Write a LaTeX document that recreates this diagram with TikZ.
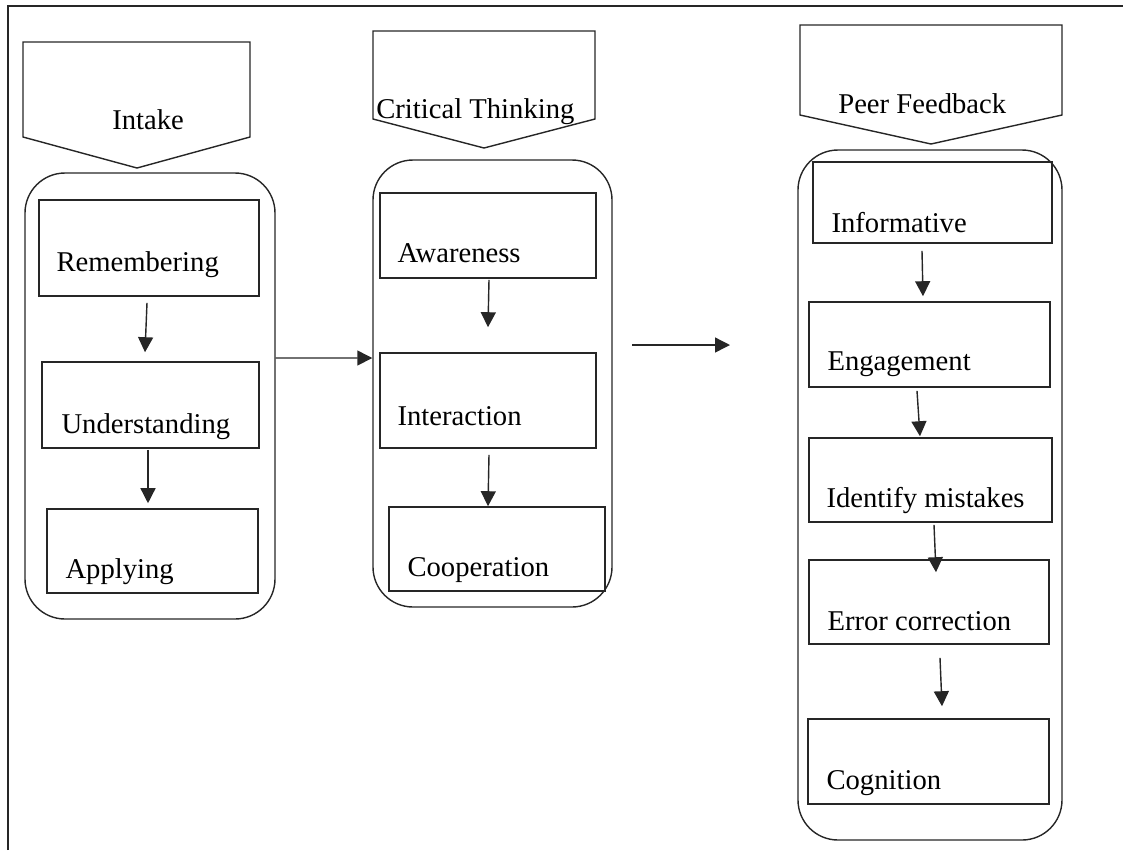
\documentclass[tikz,border=0pt]{standalone}
\usepackage{fontspec}
\setmainfont{Liberation Serif}
\usetikzlibrary{fit,arrows.meta}
\tikzset{>={Triangle[length=0.3cm,width=0.3cm]}}
\colorlet{ink}{black!85}
\tikzset{
  box/.style={draw=ink,line width=0.9pt,inner sep=0pt,fit={#1}},
  group/.style={draw=ink,line width=0.8pt,inner sep=0pt,rounded corners=0.8cm,fit={#1}},
  head/.style={draw=ink,line width=0.8pt},
  txt/.style={anchor=base west,inner sep=0pt,font=\fontsize{16.3}{19}\selectfont},
  link/.style={->,draw=ink,line width=0.8pt}
}

\begin{document}
\begin{tikzpicture}[x=0.02cm,y=-0.02cm]
  \useasboundingbox (0,0) rectangle (1123,850);
  \draw[ink,line width=1pt] (8,850) -- (8,6) -- (1123,6);
  % Intake
  \draw[head] (23,42) -- (250,42) -- (250,137) -- (137,168) -- (23,137) -- cycle;
  \node[txt] (intake) at (112,129) {Intake};
  \node[group={(25,173) (275,619)}] (g1) {};
  \node[box={(39,200) (259,296)}] (rem) {};
  \node[box={(42,362) (259,448)}] (und) {};
  \node[box={(47,509) (258,593)}] (app) {};
  \node[txt] (remt) at ([shift={(18,-25)}]rem.south west) {Remembering};
  \node[txt] (undt) at ([shift={(20,-15)}]und.south west) {Understanding};
  \node[txt] (appt) at ([shift={(19,-15)}]app.south west) {Applying};
  \draw[link] ([shift={(-2,6)}]rem.south) -- ([shift={(-5.5,-9)}]und.north);
  \draw[link] ([shift={(-2.5,1)}]und.south) -- ([shift={(-4.5,-5)}]app.north);
  % Critical Thinking
  \draw[head] (373,31) -- (595,31) -- (595,119) -- (484,148) -- (373,119) -- cycle;
  \node[txt] (crit) at (376,118) {Critical Thinking};
  \node[group={(373,160) (612,607)}] (g2) {};
  \node[box={(380,193) (596,278)}] (awa) {};
  \node[box={(380,353) (596,448)}] (int) {};
  \node[box={(389,507) (605,591)}] (coo) {};
  \node[txt] (awat) at ([shift={(18,-16)}]awa.south west) {Awareness};
  \node[txt] (intt) at ([shift={(18,-23)}]int.south west) {Interaction};
  \node[txt] (coot) at ([shift={(19,-15)}]coo.south west) {Cooperation};
  \draw[link] ([shift={(1,1)}]awa.south) -- ([shift={(0,-25)}]int.north);
  \draw[link] ([shift={(1,6)}]int.south) -- ([shift={(-9,0)}]coo.north);
  % between the columns
  \draw[link] ([yshift=0.76cm]g1.east) -- ([yshift=0.51cm]g2.west);
  \coordinate (fa) at (632,345);
  \coordinate (fb) at (730,345);
  \draw[link] (fa) -- (fb);
  % Peer Feedback
  \draw[head] (800,25) -- (1062,25) -- (1062,115) -- (931,144) -- (800,115) -- cycle;
  \node[txt] (peer) at (838,113) {Peer Feedback};
  \node[group={(798,150) (1062,840)}] (g3) {};
  \node[box={(813,162) (1052,243)}] (inf) {};
  \node[box={(809,302) (1050,387)}] (eng) {};
  \node[box={(809,438) (1052,522)}] (ide) {};
  \node[box={(809,560) (1049,644)}] (err) {};
  \node[box={(808,719) (1049,804)}] (cog) {};
  \node[txt] (inft) at ([shift={(19,-11)}]inf.south west) {Informative};
  \node[txt] (engt) at ([shift={(19,-17)}]eng.south west) {Engagement};
  \node[txt] (idet) at ([shift={(18,-15)}]ide.south west) {Identify mistakes};
  \node[txt] (errt) at ([shift={(19,-14)}]err.south west) {Error correction};
  \node[txt] (cogt) at ([shift={(19,-15)}]cog.south west) {Cognition};
  \draw[link] ([shift={(-10.5,7)}]inf.south) -- ([shift={(-6.5,-5)}]eng.north);
  \draw[link] ([shift={(-12.5,3)}]eng.south) -- ([shift={(-10.5,-1)}]ide.north);
  \draw[link] ([shift={(3.5,2)}]ide.south) -- ([shift={(7,13)}]err.north);
  \draw[link] ([shift={(11,13)}]err.south) -- ([shift={(13.5,-12)}]cog.north);
\end{tikzpicture}
\end{document}
